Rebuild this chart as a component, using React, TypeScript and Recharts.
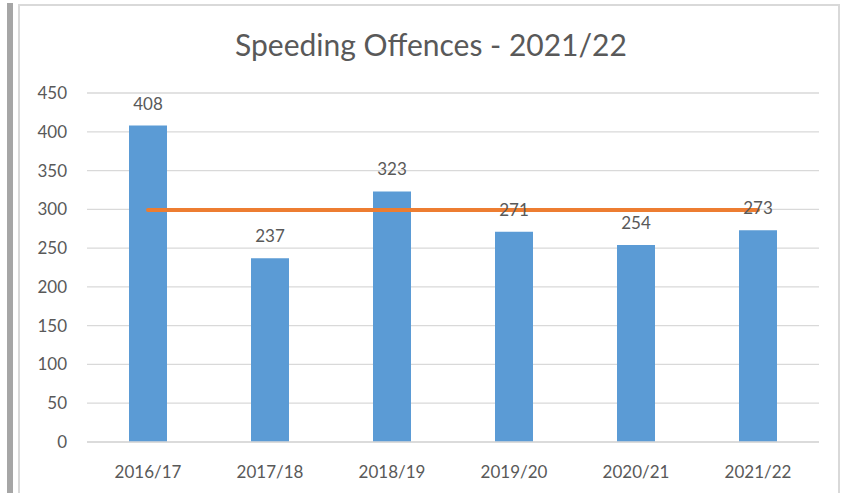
import { ComposedChart, Bar, Line, XAxis, YAxis, CartesianGrid, LabelList } from 'recharts';

const seasons = ['2016/17', '2017/18', '2018/19', '2019/20', '2020/21', '2021/22'];
const offences = [408, 237, 323, 271, 254, 273];
const target = [299, 299, 299, 299, 299, 299];
const yTicks = [0, 50, 100, 150, 200, 250, 300, 350, 400, 450];

const data = seasons.map((season, i) => ({ season, offences: offences[i], target: target[i] }));

const font = 'Lato, "Open Sans", sans-serif';
const textColor = '#595959';

export default function App() {
  return (
    <div style={{ position: 'absolute', left: 0, top: 0, width: 850, height: 493, background: '#fff', overflow: 'hidden', fontFamily: font }}>
      <div style={{ position: 'absolute', left: 7, top: 3, width: 6, height: 490, background: '#a6a6a6' }} />
      <div style={{ position: 'absolute', left: 18, top: 4, width: 822, height: 520, border: '2px solid #d9d9d9', boxSizing: 'border-box' }} />
      <div style={{ position: 'absolute', left: 0, top: 25, width: 862, textAlign: 'center', fontSize: 30, color: textColor, lineHeight: '38px' }}>
        Speeding Offences - 2021/22
      </div>
      <ComposedChart
        width={850}
        height={493}
        data={data}
        margin={{ top: 93, right: 31, bottom: 0, left: 0 }}
        style={{ position: 'absolute', left: 0, top: 0 }}
      >
        <CartesianGrid vertical={false} stroke="#d9d9d9" strokeWidth={1.3} />
        <XAxis
          dataKey="season"
          height={51}
          tickSize={0}
          tickMargin={24}
          axisLine={{ stroke: '#d9d9d9', strokeWidth: 1.3 }}
          tick={{ fill: textColor, fontSize: 17, fontFamily: font }}
        />
        <YAxis
          width={87}
          domain={[0, 450]}
          ticks={yTicks}
          interval={0}
          tickSize={0}
          tickMargin={20}
          axisLine={false}
          tick={{ fill: textColor, fontSize: 17, fontFamily: font }}
        />
        <Bar dataKey="offences" fill="#5b9bd5" barSize={38} isAnimationActive={false} />
        <Line dataKey="target" stroke="#ed7d31" strokeWidth={4} strokeLinecap="round" dot={false} activeDot={false} isAnimationActive={false} />
        <Line dataKey="offences" stroke="none" dot={false} activeDot={false} isAnimationActive={false}>
          <LabelList dataKey="offences" position="top" offset={16} fill={textColor} fontSize={17} fontFamily={font} />
        </Line>
      </ComposedChart>
    </div>
  );
}
